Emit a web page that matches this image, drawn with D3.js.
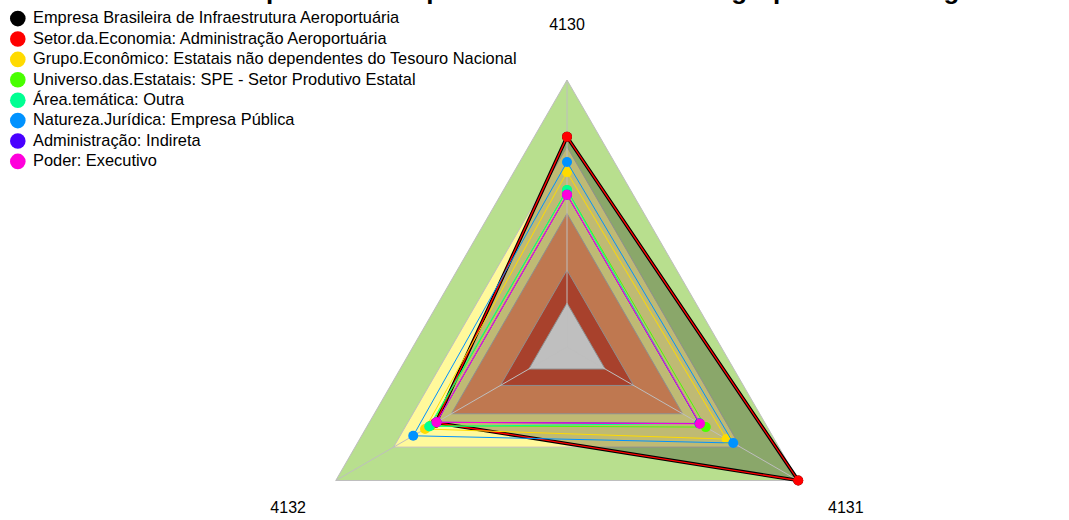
<!DOCTYPE html>
<html>
<head>
<meta charset="utf-8">
<script src="https://cdn.jsdelivr.net/npm/d3@7"></script>
<style>
  html, body { margin: 0; padding: 0; background: #fff; }
  svg { display: block; font-family: "Liberation Sans", Arial, sans-serif; }
</style>
</head>
<body>
<script>
// Radar (3 eixos) com faixas de fundo e séries sobrepostas

const axes = ["4130", "4131", "4132"];

const seriesNames = [
  "Empresa Brasileira de Infraestrutura Aeroportuária",
  "Setor.da.Economia: Administração Aeroportuária",
  "Grupo.Econômico: Estatais não dependentes do Tesouro Nacional",
  "Universo.das.Estatais: SPE - Setor Produtivo Estatal",
  "Área.temática: Outra",
  "Natureza.Jurídica: Empresa Pública",
  "Administração: Indireta",
  "Poder: Executivo"
];

const seriesColors = ["#000000", "#FF0000", "#FFDB00", "#49FF00", "#00FF92", "#0092FF", "#4900FF", "#FF00DB"];

// valores por eixo [4130, 4131, 4132], escala 0..1
const seriesValues = [
  [0.787, 1.0, 0.567],
  [0.787, 1.0, 0.567],
  [0.655, 0.69, 0.614],
  [0.588, 0.60, 0.59],
  [0.588, 0.572, 0.596],
  [0.693, 0.719, 0.665],
  [0.57, 0.573, 0.564],
  [0.57, 0.575, 0.564]
];

// faixas de fundo (limite externo de cada faixa)
const bandLimits = [1.0, 0.75, 0.5, 0.288, 0.165];
const bandColors = ["#b8df8e", "#fff99b", "#ffa06b", "#e0573b", "#ffffff"];

const title = "Desempenho da empresa frente aos demais grupos no ranking";

const width = 1069, height = 520;
const cx = 567, cy = 347;

const svg = d3.select("body").append("svg")
  .attr("width", width)
  .attr("height", height);

const r = d3.scaleLinear().domain([0, 1]).range([0, 267]);
const angle = d3.scalePoint().domain(axes).range([-Math.PI / 2, -Math.PI / 2 + 4 * Math.PI / 3]);

const pt = (axis, v) => [cx + r(v) * Math.cos(angle(axis)), cy + r(v) * Math.sin(angle(axis))];
const line = d3.line().curve(d3.curveLinearClosed);

// faixas
svg.append("g").selectAll("path")
  .data(bandLimits)
  .join("path")
  .attr("d", (v) => line(axes.map((a) => pt(a, v))))
  .attr("fill", (v, i) => bandColors[i])
  .attr("stroke", "#bebebe")
  .attr("stroke-width", 1);

// preenchimento da primeira série
svg.append("path")
  .attr("d", line(axes.map((a, j) => pt(a, seriesValues[0][j]))))
  .attr("fill", "rgba(0,0,0,0.25)")
  .attr("stroke", "none");

// raios
svg.append("g").selectAll("line")
  .data(axes)
  .join("line")
  .attr("x1", cx).attr("y1", cy)
  .attr("x2", (a) => pt(a, 1)[0])
  .attr("y2", (a) => pt(a, 1)[1])
  .attr("stroke", "#bebebe")
  .attr("stroke-width", 1);

// linhas das séries
const sg = svg.append("g").selectAll("g")
  .data(seriesValues)
  .join("g");

sg.append("path")
  .attr("d", (vals) => line(axes.map((a, j) => pt(a, vals[j]))))
  .attr("fill", "none")
  .attr("stroke", (d, i) => seriesColors[i])
  .attr("stroke-width", (d, i) => (i === 0 ? 3.5 : i === 1 ? 1.3 : 1));

sg.selectAll("circle")
  .data((vals, i) => vals.map((v, j) => ({ v, axis: axes[j], i })))
  .join("circle")
  .attr("cx", (d) => pt(d.axis, d.v)[0])
  .attr("cy", (d) => pt(d.axis, d.v)[1])
  .attr("r", 5)
  .attr("fill", (d) => seriesColors[d.i]);

// rótulos dos eixos
svg.append("g").selectAll("text")
  .data(axes)
  .join("text")
  .attr("x", (a) => pt(a, 1.206)[0])
  .attr("y", (a) => pt(a, 1.206)[1] + 1)
  .attr("text-anchor", "middle")
  .attr("dominant-baseline", "middle")
  .style("font-size", "16px")
  .attr("fill", "#000")
  .text((a) => a);

// título (cortado no topo)
svg.append("text")
  .attr("x", 570)
  .attr("y", -1)
  .attr("text-anchor", "middle")
  .style("font-size", "26px")
  .style("font-weight", "bold")
  .text(title);

// legenda
const lg = svg.append("g").selectAll("g")
  .data(seriesNames)
  .join("g")
  .attr("transform", (d, i) => `translate(0,${18.6 + i * 20.4})`);

lg.append("circle")
  .attr("cx", 17.8)
  .attr("cy", 0)
  .attr("r", 7.8)
  .attr("fill", (d, i) => seriesColors[i]);

lg.append("text")
  .attr("x", 33)
  .attr("y", 0.5)
  .attr("dominant-baseline", "middle")
  .style("font-size", "16.4px")
  .attr("fill", "#000")
  .text((d) => d);
</script>
</body>
</html>
